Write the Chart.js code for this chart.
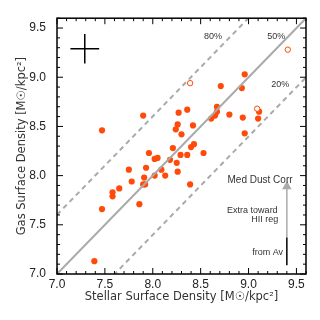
<!DOCTYPE html>
<html>
<head>
<meta charset="utf-8">
<script src="https://cdn.jsdelivr.net/npm/chart.js@4"></script>
<style>
  html, body { margin: 0; padding: 0; background: #fff; }
  #wrap { width: 320px; height: 320px; }
</style>
</head>
<body>
<div id="wrap"><canvas id="chart" width="320" height="320"></canvas></div>
<script>
// ===================================================
// Gas vs Stellar surface density - scatter
// ===================================================

// Filled points (log stellar / log gas surface density)
var stellar = [7.47, 7.90, 8.27, 8.26, 8.24, 7.96, 8.02, 8.05, 8.21, 8.96,
               8.71, 8.93, 9.11, 9.10, 8.94, 8.96, 8.80, 8.67, 8.67, 8.65,
               8.61, 8.36, 8.42, 8.30, 8.43, 8.40, 8.53, 8.29, 8.36, 8.18,
               8.25, 7.93, 8.09, 7.75, 8.26, 8.13, 8.02, 7.91, 7.78, 7.90,
               7.92, 8.39, 7.65, 7.58, 7.58, 7.86, 7.47, 7.39];
var gas = [8.46, 8.61, 8.64, 8.52, 8.47, 8.23, 8.17, 8.18, 8.28, 9.03,
           8.91, 8.89, 8.65, 8.58, 8.59, 8.43, 8.62, 8.70, 8.65, 8.61,
           8.58, 8.67, 8.51, 8.42, 8.32, 8.29, 8.23, 8.21, 8.21, 8.16,
           8.13, 8.08, 8.06, 8.06, 8.04, 8.00, 8.00, 7.98, 7.94, 7.91,
           7.91, 7.91, 7.87, 7.83, 7.79, 7.71, 7.66, 7.13];

// Open circles
var openStellar = [8.39, 9.09, 9.41];
var openGas = [8.94, 8.68, 9.28];

// Axis ticks
var tickValues = [7.0, 7.5, 8.0, 8.5, 9.0, 9.5];
var axisMin = 7.0;
var axisMax = 9.6;

// Gas fraction lines: 50% is 1:1, 80% / 20% are offset by log10(4)
var fracOffset = Math.log10(4);

// Typical error bar (centre and half size)
var errCenter = [7.29, 9.29];
var errHalf = 0.15;

// Dust correction arrow (x, bottom of black, top of black / start of grey, arrow tip)
var arrowX = 9.40;
var arrowLevels = [7.09, 7.37, 7.89];

// Text labels [text, x, y, font size]
var labels = [
  ['80%', 8.63, 9.41, 9],
  ['50%', 9.29, 9.41, 9],
  ['20%', 9.33, 8.93, 9],
  ['Med Dust Corr', 9.12, 7.95, 10],
  ['Extra toward', 9.04, 7.65, 9],
  ['HII reg', 9.17, 7.55, 9],
  ['from Av', 9.20, 7.22, 9]
];

var ORANGE = '#ff4a0a';
var GREY = '#aaaaaa';

function toXY(xs, ys) {
  return xs.map(function(x, i) { return { x: x, y: ys[i] }; });
}

function refLine(offset) {
  return [{ x: axisMin, y: axisMin + offset }, { x: axisMax, y: axisMax + offset }];
}

/**
 * Frame with inward ticks on all four sides, plus text labels
 */
var framePlugin = {
  id: 'frame',
  afterDatasetsDraw: function(chart) {
    var ctx = chart.ctx;
    var a = chart.chartArea;
    var xs = chart.scales.x;
    var ys = chart.scales.y;
    ctx.save();
    ctx.strokeStyle = '#000';
    ctx.lineWidth = 1.5;
    ctx.strokeRect(a.left, a.top, a.right - a.left, a.bottom - a.top);

    ctx.lineWidth = 1;
    for (var i = 0; i <= 26; i++) {
      var v = axisMin + i * 0.1;
      var major = Math.abs(v * 2 - Math.round(v * 2)) < 1e-6;
      var len = major ? 6 : 3;
      var px = xs.getPixelForValue(v);
      var py = ys.getPixelForValue(v);
      ctx.beginPath();
      ctx.moveTo(px, a.bottom); ctx.lineTo(px, a.bottom - len);
      ctx.moveTo(px, a.top); ctx.lineTo(px, a.top + len);
      ctx.moveTo(a.left, py); ctx.lineTo(a.left + len, py);
      ctx.moveTo(a.right, py); ctx.lineTo(a.right - len, py);
      ctx.stroke();
    }

    ctx.fillStyle = '#333';
    ctx.textAlign = 'center';
    ctx.textBaseline = 'middle';
    labels.forEach(function(l) {
      ctx.font = l[3] + 'px "Liberation Sans", Arial, sans-serif';
      ctx.fillText(l[0], xs.getPixelForValue(l[1]), ys.getPixelForValue(l[2]));
    });
    ctx.restore();
  }
};

var lineStyle = { showLine: true, pointRadius: 0, fill: false };

new Chart(document.getElementById('chart').getContext('2d'), {
  type: 'scatter',
  data: {
    datasets: [
      Object.assign({ data: refLine(0), borderColor: GREY, borderWidth: 2 }, lineStyle),
      Object.assign({ data: refLine(fracOffset), borderColor: GREY, borderWidth: 2, borderDash: [5, 4] }, lineStyle),
      Object.assign({ data: refLine(-fracOffset), borderColor: GREY, borderWidth: 2, borderDash: [5, 4] }, lineStyle),
      // error cross
      Object.assign({ data: [{ x: errCenter[0] - errHalf, y: errCenter[1] }, { x: errCenter[0] + errHalf, y: errCenter[1] }],
        borderColor: '#000', borderWidth: 1.5 }, lineStyle),
      Object.assign({ data: [{ x: errCenter[0], y: errCenter[1] - errHalf }, { x: errCenter[0], y: errCenter[1] + errHalf }],
        borderColor: '#000', borderWidth: 1.5 }, lineStyle),
      // dust correction arrow
      Object.assign({ data: [{ x: arrowX, y: arrowLevels[0] }, { x: arrowX, y: arrowLevels[1] }],
        borderColor: '#000', borderWidth: 1.5 }, lineStyle),
      {
        data: [{ x: arrowX, y: arrowLevels[1] }, { x: arrowX, y: arrowLevels[2] }],
        showLine: true, borderColor: GREY, borderWidth: 1.5,
        pointRadius: [0, 4], pointStyle: 'triangle',
        pointBackgroundColor: GREY, pointBorderColor: GREY
      },
      {
        data: toXY(openStellar, openGas),
        pointRadius: 2.7, pointBorderWidth: 1,
        pointBackgroundColor: '#fff', pointBorderColor: ORANGE
      },
      {
        data: toXY(stellar, gas),
        pointRadius: 3.1, pointBorderWidth: 0,
        pointBackgroundColor: ORANGE, pointBorderColor: ORANGE
      }
    ]
  },
  options: {
    responsive: false,
    animation: false,
    layout: { padding: { top: 15, right: 14, left: 0, bottom: 0 } },
    plugins: {
      legend: { display: false },
      tooltip: { enabled: false }
    },
    scales: {
      x: {
        type: 'linear',
        min: axisMin,
        max: axisMax,
        grid: { display: false, drawTicks: false },
        border: { display: false },
        afterBuildTicks: function(scale) {
          scale.ticks = tickValues.map(function(v) { return { value: v }; });
        },
        afterFit: function(scale) { scale.height = 46; },
        ticks: {
          autoSkip: false,
          maxRotation: 0,
          padding: 3,
          color: '#222',
          font: { family: '"Liberation Sans", Arial, sans-serif', size: 12 },
          callback: function(value) { return value.toFixed(1); }
        },
        title: {
          display: true,
          text: 'Stellar Surface Density [M\u2609/kpc\u00b2]',
          color: '#333',
          padding: { top: 0, bottom: 16 },
          font: { family: '"DejaVu Sans", sans-serif', size: 11.5 }
        }
      },
      y: {
        type: 'linear',
        min: axisMin,
        max: axisMax,
        grid: { display: false, drawTicks: false },
        border: { display: false },
        afterBuildTicks: function(scale) {
          scale.ticks = tickValues.map(function(v) { return { value: v }; });
        },
        afterFit: function(scale) { scale.width = 57; },
        ticks: {
          autoSkip: false,
          padding: 11,
          color: '#222',
          font: { family: '"Liberation Sans", Arial, sans-serif', size: 12 },
          callback: function(value) { return value.toFixed(1); }
        },
        title: {
          display: true,
          text: 'Gas Surface Density [M\u2609/kpc\u00b2]',
          color: '#333',
          padding: { top: 15, bottom: 0 },
          font: { family: '"DejaVu Sans", sans-serif', size: 11.5 }
        }
      }
    }
  },
  plugins: [framePlugin]
});
</script>
</body>
</html>
